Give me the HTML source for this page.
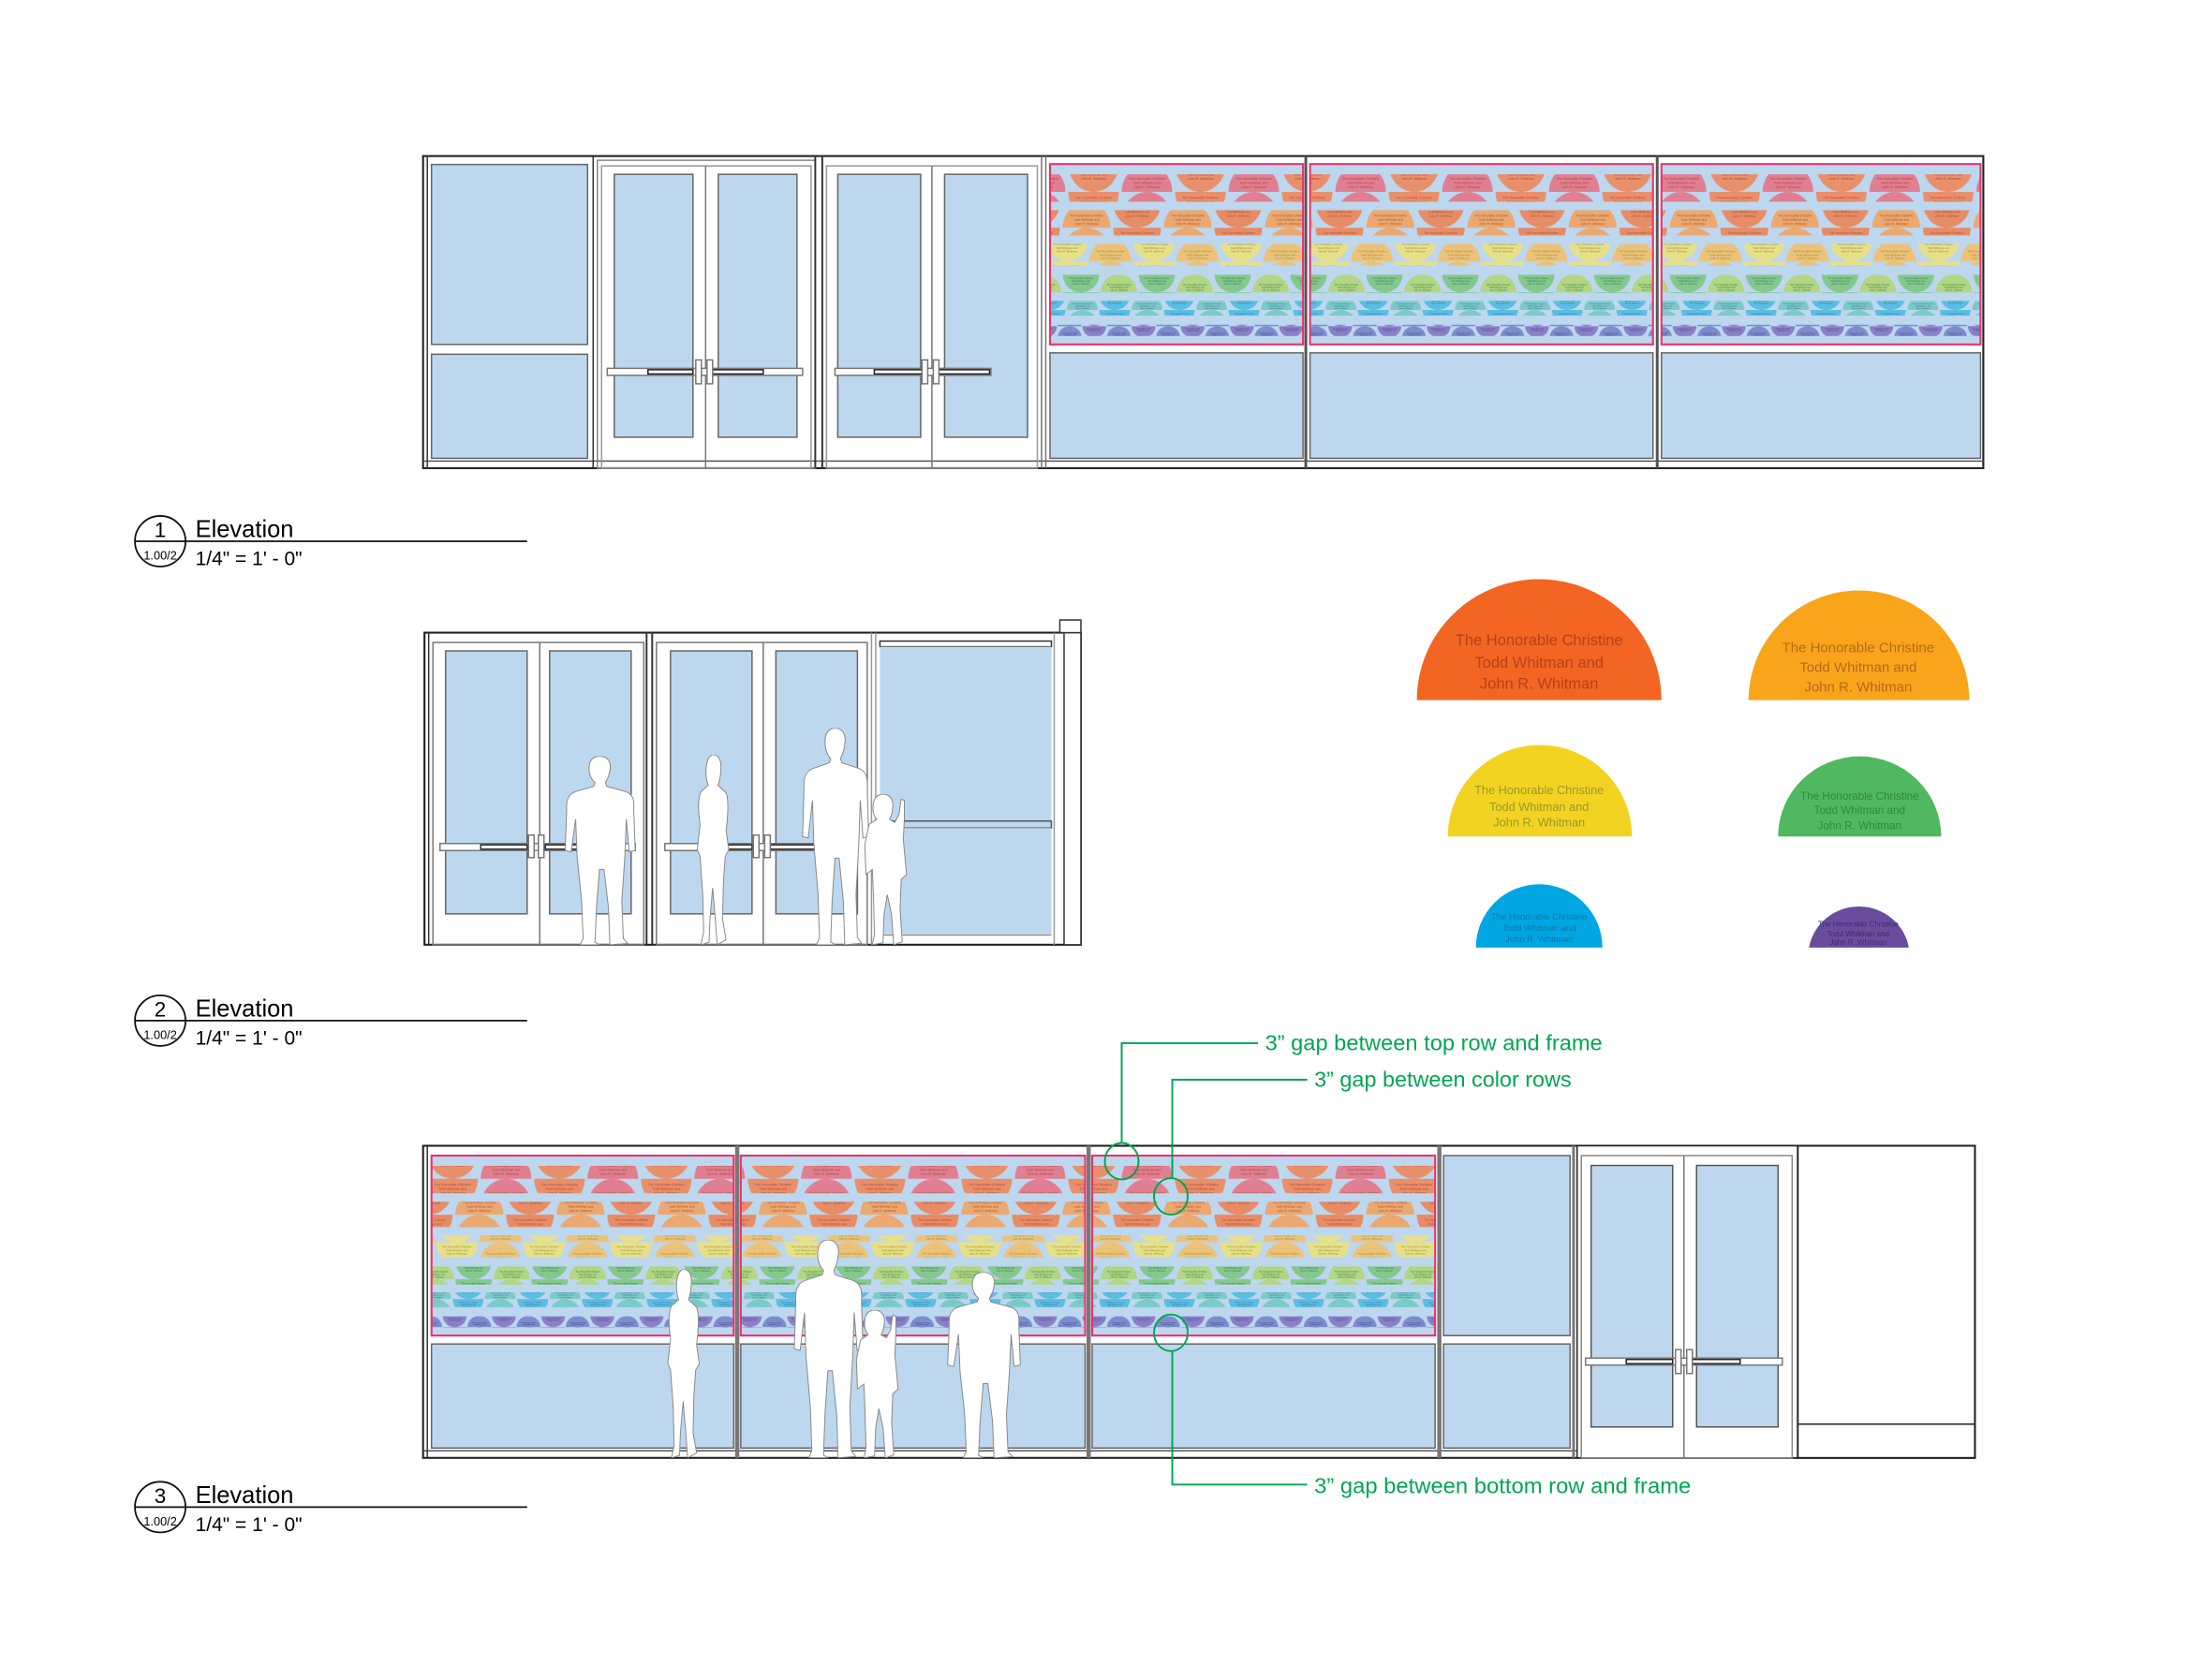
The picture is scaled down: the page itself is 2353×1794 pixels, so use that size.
<!DOCTYPE html>
<html><head><meta charset="utf-8"><style>
html,body{margin:0;padding:0;background:#fff;}
svg{display:block;}
</style></head><body>
<svg width="2353" height="1794" viewBox="0 0 1568 1195" preserveAspectRatio="none" xmlns="http://www.w3.org/2000/svg" font-family="Liberation Sans, sans-serif">
<defs>
<!-- mural row patterns -->
<pattern id="r1" patternUnits="userSpaceOnUse" width="76" height="19.5"><path d="M0 0A18 19.5 0 0 0 36 0Z" fill="#e8906c"/><path d="M38 19.5A18 19.5 0 0 1 74 19.5Z" fill="#e07f92"/><g font-size="2.4" fill="#b2412f" text-anchor="middle"><text x="18" y="5">The Honorable Christine</text><text x="18" y="8">Todd Whitman and</text><text x="18" y="11">John R. Whitman</text><text x="56" y="11">The Honorable Christine</text><text x="56" y="14">Todd Whitman and</text><text x="56" y="17">John R. Whitman</text></g></pattern>
<pattern id="r2" patternUnits="userSpaceOnUse" width="72" height="18"><path d="M0 0A17 18 0 0 0 34 0Z" fill="#e78c66"/><path d="M36 18A17 18 0 0 1 70 18Z" fill="#eba870"/><g font-size="2.2" fill="#a8532a" text-anchor="middle"><text x="17" y="4.5">The Honorable Christine</text><text x="17" y="7.5">Todd Whitman and</text><text x="17" y="10.5">John R. Whitman</text><text x="53" y="10">The Honorable Christine</text><text x="53" y="13">Todd Whitman and</text><text x="53" y="16">John R. Whitman</text></g></pattern>
<pattern id="r3" patternUnits="userSpaceOnUse" width="62" height="15.5"><path d="M0 0A15 15.5 0 0 0 30 0Z" fill="#e7e08a"/><path d="M31 15.5A15 15.5 0 0 1 61 15.5Z" fill="#ecc27a"/><g font-size="1.9" fill="#8f8a2a" text-anchor="middle"><text x="15" y="4">The Honorable Christine</text><text x="15" y="6.5">Todd Whitman and</text><text x="15" y="9">John R. Whitman</text><text x="46" y="9">The Honorable Christine</text><text x="46" y="11.5">Todd Whitman and</text><text x="46" y="14">John R. Whitman</text></g></pattern>
<pattern id="r4" patternUnits="userSpaceOnUse" width="54" height="13"><path d="M0 0A13 13 0 0 0 26 0Z" fill="#84c78f"/><path d="M27 13A13 13 0 0 1 53 13Z" fill="#b3d684"/><g font-size="1.6" fill="#2f7a3a" text-anchor="middle"><text x="13" y="3.5">The Honorable Christine</text><text x="13" y="5.5">Todd Whitman and</text><text x="13" y="7.5">John R. Whitman</text><text x="40" y="8">The Honorable Christine</text><text x="40" y="10">Todd Whitman and</text><text x="40" y="12">John R. Whitman</text></g></pattern>
<pattern id="r5" patternUnits="userSpaceOnUse" width="46" height="10.5"><path d="M0 0A11 10.5 0 0 0 22 0Z" fill="#5cbde2"/><path d="M23 10.5A11 10.5 0 0 1 45 10.5Z" fill="#7ccac8"/><g font-size="1.3" fill="#1a5f8a" text-anchor="middle"><text x="11" y="3">The Honorable Christine</text><text x="11" y="4.6">Todd Whitman and</text><text x="11" y="6.2">John R. Whitman</text><text x="34" y="6.5">The Honorable Christine</text><text x="34" y="8.1">Todd Whitman and</text><text x="34" y="9.7">John R. Whitman</text></g></pattern>
<pattern id="r6" patternUnits="userSpaceOnUse" width="35" height="8"><path d="M0 0A8.5 8 0 0 0 17 0Z" fill="#8a80c8"/><path d="M17.5 8A8.5 8 0 0 1 34.5 8Z" fill="#7c8ccc"/><g font-size="1" fill="#352a70" text-anchor="middle"><text x="8.5" y="2.2">The Honorable Christine</text><text x="8.5" y="3.5">Todd Whitman and</text><text x="26" y="5.5">The Honorable Christine</text><text x="26" y="6.8">Todd Whitman and</text></g></pattern>
<symbol id="adult" viewBox="0 0 100 300" preserveAspectRatio="none">
<path vector-effect="non-scaling-stroke" d="M50,0 C62,0 66,10 64,22 C63,32 60,38 58,42 L60,48 L85,56 C95,60 97,70 96,85 L98,150 L90,152 L86,100 L84,160 L80,230 L82,290 L88,298 L64,300 L62,240 L56,180 L50,180 L46,240 L44,296 L50,300 L24,300 L28,290 L26,230 L20,160 L18,100 L12,152 L4,150 L6,85 C5,70 8,60 18,56 L42,48 L44,42 C40,38 36,30 36,20 C36,8 40,0 50,0 Z" fill="#fff" stroke="#8a8a8a" stroke-width="1"/>
</symbol>
<symbol id="woman" viewBox="0 0 100 300" preserveAspectRatio="none">
<path vector-effect="non-scaling-stroke" d="M52,0 C66,0 70,12 68,26 C67,38 64,44 62,48 L80,60 C86,70 84,100 80,120 L86,150 L78,160 L74,200 L72,260 L80,292 L60,300 L56,260 L50,210 L44,260 L42,296 L24,300 L30,280 L28,220 L22,160 L16,150 L22,110 C18,90 16,70 24,58 L40,48 C36,40 34,30 36,18 C38,6 44,0 52,0 Z" fill="#fff" stroke="#8a8a8a" stroke-width="1"/>
</symbol>
<symbol id="child" viewBox="0 0 100 300" preserveAspectRatio="none">
<path vector-effect="non-scaling-stroke" d="M40,0 C56,0 60,14 58,30 C57,40 54,46 52,50 L62,56 L70,40 L74,10 L80,12 L80,50 L78,90 L84,160 L74,170 L72,230 L76,294 L60,300 L56,240 L48,200 L42,240 L40,296 L20,300 L24,280 L22,200 L20,150 L8,160 L6,100 L14,60 L28,50 C22,42 20,30 22,18 C24,6 30,0 40,0 Z" fill="#fff" stroke="#8a8a8a" stroke-width="1"/>
</symbol>
</defs>

<g stroke="#333" fill="none" stroke-width="1">
<!-- ============ ELEVATION 1 ============ -->
<rect x="301" y="111" width="1110" height="222" fill="#fff" stroke="#222" stroke-width="1.4"/>
<line x1="301" y1="328" x2="1411" y2="328" stroke="#555"/>
<line x1="304" y1="111" x2="304" y2="333"/>
<!-- sidelight -->
<rect x="307" y="117" width="111" height="128" fill="#bdd7ee" stroke="#666"/>
<rect x="307" y="252" width="111" height="74" fill="#bdd7ee" stroke="#666"/>
<line x1="422" y1="111" x2="422" y2="333"/>
<!-- door pair 1 -->
<rect x="425" y="114" width="155" height="219" stroke="#888"/>
<rect x="428" y="118" width="149" height="215" stroke="#999"/>
<rect x="437" y="124" width="56" height="187" fill="#bdd7ee" stroke="#666"/>
<rect x="511" y="124" width="56" height="187" fill="#bdd7ee" stroke="#666"/>
<line x1="502" y1="118" x2="502" y2="333" stroke="#777"/>
<rect x="432" y="262" width="139" height="5" fill="#fff" stroke="#777"/>
<rect x="461" y="263" width="32" height="3" fill="#fff" stroke="#222"/>
<rect x="506" y="263" width="37" height="3" fill="#fff" stroke="#222"/>
<rect x="495" y="256" width="4" height="17" fill="#fff" stroke="#777"/>
<rect x="503" y="256" width="4" height="17" fill="#fff" stroke="#777"/>
<line x1="580" y1="111" x2="580" y2="333" stroke-width="1.3"/>
<line x1="585" y1="111" x2="585" y2="333" stroke-width="1.3"/>
<!-- door pair 2 -->
<rect x="588" y="118" width="150" height="215" stroke="#999"/>
<rect x="596" y="124" width="59" height="187" fill="#bdd7ee" stroke="#666"/>
<rect x="672" y="124" width="59" height="187" fill="#bdd7ee" stroke="#666"/>
<line x1="663" y1="118" x2="663" y2="333" stroke="#777"/>
<rect x="594" y="262" width="111" height="5" fill="#fff" stroke="#777"/>
<rect x="622" y="263" width="34" height="3" fill="#fff" stroke="#222"/>
<rect x="667" y="263" width="37" height="3" fill="#fff" stroke="#222"/>
<rect x="656" y="256" width="4" height="17" fill="#fff" stroke="#777"/>
<rect x="664" y="256" width="4" height="17" fill="#fff" stroke="#777"/>
<line x1="741" y1="111" x2="741" y2="333" stroke="#777"/>
<line x1="744" y1="111" x2="744" y2="333" stroke="#777"/>
<!-- mural panels elev 1 -->
<rect x="747" y="116.7" width="180" height="128.3" fill="#bdd7ee" stroke="none"/>
<rect x="932" y="116.7" width="244" height="128.3" fill="#bdd7ee" stroke="none"/>
<rect x="1182" y="116.7" width="227" height="128.3" fill="#bdd7ee" stroke="none"/>
<g stroke="none">
<rect x="747" y="124" width="180" height="19.5" fill="url(#r1)"/><rect x="747" y="149.5" width="180" height="18" fill="url(#r2)"/><rect x="747" y="173.5" width="180" height="15.5" fill="url(#r3)"/><rect x="747" y="195.5" width="180" height="13" fill="url(#r4)"/><rect x="747" y="214" width="180" height="10.5" fill="url(#r5)"/><rect x="747" y="231" width="180" height="8" fill="url(#r6)"/>
<rect x="932" y="124" width="244" height="19.5" fill="url(#r1)"/><rect x="932" y="149.5" width="244" height="18" fill="url(#r2)"/><rect x="932" y="173.5" width="244" height="15.5" fill="url(#r3)"/><rect x="932" y="195.5" width="244" height="13" fill="url(#r4)"/><rect x="932" y="214" width="244" height="10.5" fill="url(#r5)"/><rect x="932" y="231" width="244" height="8" fill="url(#r6)"/>
<rect x="1182" y="124" width="227" height="19.5" fill="url(#r1)"/><rect x="1182" y="149.5" width="227" height="18" fill="url(#r2)"/><rect x="1182" y="173.5" width="227" height="15.5" fill="url(#r3)"/><rect x="1182" y="195.5" width="227" height="13" fill="url(#r4)"/><rect x="1182" y="214" width="227" height="10.5" fill="url(#r5)"/><rect x="1182" y="231" width="227" height="8" fill="url(#r6)"/>
</g>
<g stroke="#e8336f" stroke-width="1.4">
<rect x="747" y="116.7" width="180" height="128.3"/><rect x="932" y="116.7" width="244" height="128.3"/><rect x="1182" y="116.7" width="227" height="128.3"/>
</g>
<rect x="747" y="251" width="180" height="75" fill="#bdd7ee" stroke="#666"/>
<rect x="932" y="251" width="244" height="75" fill="#bdd7ee" stroke="#666"/>
<rect x="1182" y="251" width="227" height="75" fill="#bdd7ee" stroke="#666"/>
<line x1="929" y1="111" x2="929" y2="333" stroke="#555" stroke-width="2"/>
<line x1="1179" y1="111" x2="1179" y2="333" stroke="#555" stroke-width="2"/>

<!-- ============ ELEVATION 2 ============ -->
<rect x="302" y="450" width="467" height="222" fill="#fff" stroke="#222" stroke-width="1.4"/>
<line x1="305" y1="450" x2="305" y2="672"/>
<rect x="308" y="457" width="150" height="215" stroke="#777"/>
<rect x="317" y="463" width="58" height="187" fill="#bdd7ee" stroke="#666"/>
<rect x="391" y="463" width="58" height="187" fill="#bdd7ee" stroke="#666"/>
<line x1="384" y1="457" x2="384" y2="672" stroke="#777"/>
<rect x="313" y="600" width="139" height="5" fill="#fff" stroke="#777"/>
<rect x="342" y="601" width="33" height="3" fill="#fff" stroke="#333"/>
<rect x="388" y="601" width="35" height="3" fill="#fff" stroke="#333"/>
<rect x="376" y="594" width="4" height="16" fill="#fff" stroke="#777"/>
<rect x="383" y="594" width="4" height="16" fill="#fff" stroke="#777"/>
<line x1="460" y1="450" x2="460" y2="672" stroke-width="1.3"/>
<line x1="464" y1="450" x2="464" y2="672" stroke-width="1.3"/>
<rect x="467" y="457" width="150" height="215" stroke="#777"/>
<rect x="477" y="463" width="58" height="187" fill="#bdd7ee" stroke="#666"/>
<rect x="552" y="463" width="58" height="187" fill="#bdd7ee" stroke="#666"/>
<line x1="543" y1="457" x2="543" y2="672" stroke="#777"/>
<rect x="473" y="600" width="137" height="5" fill="#fff" stroke="#777"/>
<rect x="502" y="601" width="33" height="3" fill="#fff" stroke="#333"/>
<rect x="548" y="601" width="35" height="3" fill="#fff" stroke="#333"/>
<rect x="536" y="594" width="4" height="16" fill="#fff" stroke="#777"/>
<rect x="544" y="594" width="4" height="16" fill="#fff" stroke="#777"/>
<line x1="620" y1="450" x2="620" y2="672" stroke="#999" stroke-width="1"/>
<line x1="623" y1="450" x2="623" y2="672" stroke="#999"/>
<rect x="626" y="456" width="122" height="4" fill="#fff" stroke="#333"/>
<rect x="626" y="460" width="122" height="124" fill="#bdd7ee" stroke="none"/>
<rect x="626" y="584" width="122" height="5" fill="#bdd7ee" stroke="#555"/>
<rect x="626" y="589" width="122" height="75" fill="#bdd7ee" stroke="none"/>
<line x1="626" y1="665" x2="748" y2="665" stroke="#888"/>
<line x1="750" y1="450" x2="750" y2="672" stroke="#999"/>
<rect x="757" y="450" width="12" height="222" fill="#fff" stroke="#333"/>
<rect x="754" y="441" width="15" height="9" fill="#fff" stroke="#333"/>
<use href="#adult" x="400" y="538" width="53" height="134"/>
<use href="#woman" x="491" y="537" width="32" height="135"/>
<use href="#adult" x="569" y="518" width="50" height="154"/>
<use href="#child" x="613" y="565" width="38" height="107"/>

<!-- ============ ELEVATION 3 ============ -->
<rect x="301" y="815" width="1104" height="222" fill="#fff" stroke="#222" stroke-width="1.4"/>
<line x1="301" y1="1032" x2="1122" y2="1032" stroke="#555"/>
<rect x="307" y="822" width="215" height="128" fill="#bdd7ee" stroke="none"/>
<rect x="527" y="822" width="245" height="128" fill="#bdd7ee" stroke="none"/>
<rect x="777" y="822" width="244" height="128" fill="#bdd7ee" stroke="none"/>
<g stroke="none">
<rect x="307" y="829.3" width="215" height="19.5" fill="url(#r1)"/><rect x="307" y="854.8" width="215" height="18" fill="url(#r2)"/><rect x="307" y="878.8" width="215" height="15.5" fill="url(#r3)"/><rect x="307" y="900.8" width="215" height="13" fill="url(#r4)"/><rect x="307" y="919.3" width="215" height="10.5" fill="url(#r5)"/><rect x="307" y="936.3" width="215" height="8" fill="url(#r6)"/>
<rect x="527" y="829.3" width="245" height="19.5" fill="url(#r1)"/><rect x="527" y="854.8" width="245" height="18" fill="url(#r2)"/><rect x="527" y="878.8" width="245" height="15.5" fill="url(#r3)"/><rect x="527" y="900.8" width="245" height="13" fill="url(#r4)"/><rect x="527" y="919.3" width="245" height="10.5" fill="url(#r5)"/><rect x="527" y="936.3" width="245" height="8" fill="url(#r6)"/>
<rect x="777" y="829.3" width="244" height="19.5" fill="url(#r1)"/><rect x="777" y="854.8" width="244" height="18" fill="url(#r2)"/><rect x="777" y="878.8" width="244" height="15.5" fill="url(#r3)"/><rect x="777" y="900.8" width="244" height="13" fill="url(#r4)"/><rect x="777" y="919.3" width="244" height="10.5" fill="url(#r5)"/><rect x="777" y="936.3" width="244" height="8" fill="url(#r6)"/>
</g>
<g stroke="#e8336f" stroke-width="1.4">
<rect x="307" y="822" width="215" height="128"/><rect x="527" y="822" width="245" height="128"/><rect x="777" y="822" width="244" height="128"/>
</g>
<rect x="307" y="956" width="215" height="74" fill="#bdd7ee" stroke="#666"/>
<rect x="527" y="956" width="245" height="74" fill="#bdd7ee" stroke="#666"/>
<rect x="777" y="956" width="244" height="74" fill="#bdd7ee" stroke="#666"/>
<line x1="304" y1="815" x2="304" y2="1037"/>
<line x1="524.5" y1="815" x2="524.5" y2="1037" stroke="#777" stroke-width="3"/>
<line x1="774.5" y1="815" x2="774.5" y2="1037" stroke="#777" stroke-width="3"/>
<line x1="1024" y1="815" x2="1024" y2="1037" stroke="#777" stroke-width="3"/>
<rect x="1027" y="822" width="90" height="128" fill="#bdd7ee" stroke="#666"/>
<rect x="1027" y="956" width="90" height="74" fill="#bdd7ee" stroke="#666"/>
<line x1="1119.5" y1="815" x2="1119.5" y2="1037" stroke="#777" stroke-width="2"/>
<rect x="1122" y="815" width="157" height="222" fill="#fff" stroke="#222"/>
<rect x="1125" y="822" width="150" height="215" stroke="#888"/>
<rect x="1132" y="829" width="58" height="186" fill="#bdd7ee" stroke="#555"/>
<rect x="1207" y="829" width="58" height="186" fill="#bdd7ee" stroke="#555"/>
<line x1="1198" y1="822" x2="1198" y2="1037" stroke="#777"/>
<rect x="1128" y="966" width="140" height="5" fill="#fff" stroke="#777"/>
<rect x="1157" y="967" width="33" height="3" fill="#fff" stroke="#222"/>
<rect x="1202" y="967" width="36" height="3" fill="#fff" stroke="#222"/>
<rect x="1192" y="960" width="4" height="17" fill="#fff" stroke="#777"/>
<rect x="1200" y="960" width="4" height="17" fill="#fff" stroke="#777"/>
<rect x="1279" y="815" width="126" height="222" fill="#fff" stroke="#222" stroke-width="1.3"/>
<line x1="1279" y1="1013" x2="1405" y2="1013" stroke="#222"/>
<use href="#woman" x="470" y="903" width="32" height="134"/>
<use href="#adult" x="563" y="882" width="52" height="155"/>
<use href="#child" x="607" y="932" width="38" height="105"/>
<use href="#adult" x="672" y="905" width="55" height="132"/>
</g>

<!-- annotations -->
<g stroke="#00a651" stroke-width="1.3" fill="none">
<polyline points="895,742 798,742 798,813"/>
<ellipse cx="798" cy="826" rx="12" ry="13"/>
<polyline points="930,768 834,768 834,838"/>
<ellipse cx="833" cy="851" rx="12" ry="13"/>
<ellipse cx="833" cy="948" rx="12" ry="13"/>
<polyline points="834,961 834,1056 930,1056"/>
</g>
<g fill="#00a651" font-family="Liberation Sans Narrow, Liberation Sans, sans-serif" font-size="15.5">
<text x="900" y="747" textLength="240" lengthAdjust="spacingAndGlyphs">3” gap between top row and frame</text>
<text x="935" y="773" textLength="183" lengthAdjust="spacingAndGlyphs">3” gap between color rows</text>
<text x="935" y="1062" textLength="268" lengthAdjust="spacingAndGlyphs">3” gap between bottom row and frame</text>
</g>

<!-- legend semicircles -->
<g text-anchor="middle" font-family="Liberation Sans Narrow, Liberation Sans, sans-serif">
<path d="M1008 498A87 86 0 0 1 1182 498Z" fill="#f26522"/>
<g fill="#b8401a" font-size="11"><text x="1095" y="459">The Honorable Christine</text><text x="1095" y="475">Todd Whitman and</text><text x="1095" y="490">John R. Whitman</text></g>
<path d="M1244 498A78.5 78 0 0 1 1401 498Z" fill="#f9a51b"/>
<g fill="#b26a18" font-size="10"><text x="1322" y="464">The Honorable Christine</text><text x="1322" y="478">Todd Whitman and</text><text x="1322" y="492">John R. Whitman</text></g>
<path d="M1030 595A65.5 65 0 0 1 1161 595Z" fill="#f3d322"/>
<g fill="#9c9a22" font-size="8.5"><text x="1095" y="565">The Honorable Christine</text><text x="1095" y="577">Todd Whitman and</text><text x="1095" y="588">John R. Whitman</text></g>
<path d="M1265 595A58 57 0 0 1 1381 595Z" fill="#4fb860"/>
<g fill="#2f8a3a" font-size="7.8"><text x="1323" y="569">The Honorable Christine</text><text x="1323" y="579">Todd Whitman and</text><text x="1323" y="590">John R. Whitman</text></g>
<path d="M1050 674A45 45 0 0 1 1140 674Z" fill="#00a6e2"/>
<g fill="#0d77a8" font-size="6.3"><text x="1095" y="654">The Honorable Christine</text><text x="1095" y="662">Todd Whitman and</text><text x="1095" y="670">John R. Whitman</text></g>
<path d="M1287 674A36 35 0 0 1 1358 674Z" fill="#6a4c9c"/>
<g fill="#3e2a70" font-size="5.3"><text x="1322" y="659">The Honorable Christine</text><text x="1322" y="666">Todd Whitman and</text><text x="1322" y="672">John R. Whitman</text></g>
</g>

<!-- elevation labels -->
<g id="lab1">
<circle cx="114" cy="385" r="18" fill="none" stroke="#111" stroke-width="1.2"/>
<line x1="96" y1="385" x2="375" y2="385" stroke="#111" stroke-width="1.2"/>
<text x="114" y="382" font-size="15" text-anchor="middle">1</text>
<text x="114" y="398" font-size="8.5" text-anchor="middle">1.00/2</text>
<text x="139" y="382" font-size="17">Elevation</text>
<text x="139" y="402" font-size="14">1/4" = 1' - 0"</text>
</g>
<g>
<circle cx="114" cy="726" r="18" fill="none" stroke="#111" stroke-width="1.2"/>
<line x1="96" y1="726" x2="375" y2="726" stroke="#111" stroke-width="1.2"/>
<text x="114" y="723" font-size="15" text-anchor="middle">2</text>
<text x="114" y="739" font-size="8.5" text-anchor="middle">1.00/2</text>
<text x="139" y="723" font-size="17">Elevation</text>
<text x="139" y="743" font-size="14">1/4" = 1' - 0"</text>
</g>
<g>
<circle cx="114" cy="1072" r="18" fill="none" stroke="#111" stroke-width="1.2"/>
<line x1="96" y1="1072" x2="375" y2="1072" stroke="#111" stroke-width="1.2"/>
<text x="114" y="1069" font-size="15" text-anchor="middle">3</text>
<text x="114" y="1085" font-size="8.5" text-anchor="middle">1.00/2</text>
<text x="139" y="1069" font-size="17">Elevation</text>
<text x="139" y="1089" font-size="14">1/4" = 1' - 0"</text>
</g>
</svg>
</body></html>
